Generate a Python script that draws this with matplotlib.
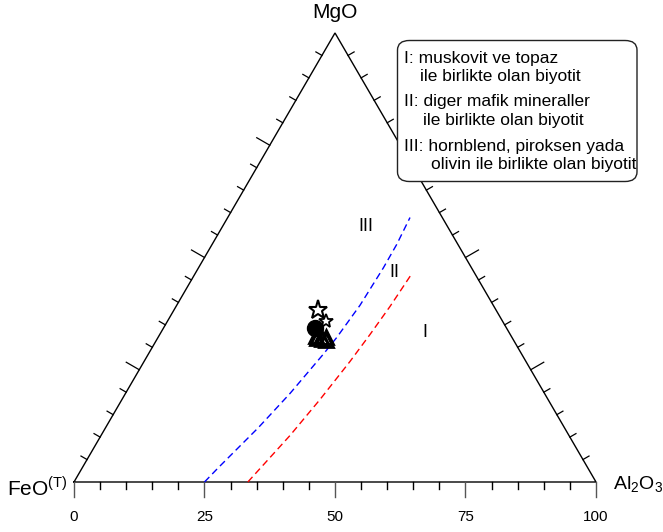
import numpy as np
import matplotlib
matplotlib.use("Agg")
import matplotlib.pyplot as plt
from matplotlib.patches import FancyBboxPatch

plt.rcParams["font.family"] = "Liberation Sans"
plt.rcParams["mathtext.fontset"] = "custom"
plt.rcParams["mathtext.rm"] = "Liberation Sans"

# boundary curves between the biotite fields, (Al2O3 %, MgO %)
III_II_AL = [25.0, 26.05, 29.26, 31.52, 33.53, 34.24, 35.11, 35.42, 35.37, 34.92]
III_II_MG = [0.0, 3.18, 12.09, 19.71, 28.46, 32.18, 39.35, 47.66, 52.89, 58.9]
II_I_AL = [33.3, 36.2, 37.94, 39.45, 40.28, 40.99, 41.5]
II_I_MG = [0.0, 10.36, 18.37, 26.84, 32.85, 39.09, 46.1]

# biotite analyses
STAR_AL = [27.6, 30.3]
STAR_MG = [38.4, 35.9]
CIRCLE_AL = [29.1]
CIRCLE_MG = [34.2]
TRI_AL = [30.0, 30.6, 31.2, 31.6, 32.1, 32.5]
TRI_MG = [32.6, 32.0, 32.4, 31.8, 32.2, 31.6]

AXIS_TICKS = [0, 25, 50, 75, 100]
FIELD_LABELS = ["III", "II", "I"]
FIELD_AL = [27.4, 38.0, 50.5]
FIELD_MG = [57.0, 46.6, 33.4]

LEGEND_LINES = [
    "I: muskovit ve topaz",
    "ile birlikte olan biyotit",
    "II: diger mafik mineraller",
    "ile birlikte olan biyotit",
    "III: hornblend, piroksen yada",
    "olivin ile birlikte olan biyotit",
]

H = np.sqrt(3) / 2


def tern(al, mg):
    al = np.asarray(al, dtype=float)
    mg = np.asarray(mg, dtype=float)
    return al + mg / 2, mg * H


W, HT = 663, 532
fig = plt.figure(figsize=(W / 100, HT / 100), dpi=100)
ax = fig.add_axes([0, 0, 1, 1])
sx, sy = 5.22, 5.185
ax.set_xlim(-74 / sx, (W - 74) / sx)
ax.set_ylim(-(HT - 482) / sy, 482 / sy)
ax.axis("off")

# triangle frame
ax.plot([0, 100, 50, 0], [0, 0, 100 * H, 0], color="black", lw=1.0,
        solid_joinstyle="miter", zorder=2)

# ticks every 5 %, long ones every 25 %
short_px, long_px = 7.0, 15.0
for t in range(0, 101, 5):
    ln = (long_px if t % 25 == 0 else short_px)
    ax.plot([t, t], [0, -ln / sy], color="#555555" if t % 25 == 0 else "black",
            lw=1.0, zorder=2)
for t in range(5, 100, 5):
    ln = long_px if t % 25 == 0 else short_px
    # left edge, FeO -> MgO
    x0, y0 = tern(0, t)
    ax.plot([x0, x0 - H * ln / sx], [y0, y0 + 0.5 * ln / sy], color="black",
            lw=0.9, zorder=2)
    # right edge, Al2O3 -> MgO
    x1, y1 = tern(100 - t, t)
    ax.plot([x1, x1 + H * ln / sx], [y1, y1 + 0.5 * ln / sy], color="black",
            lw=0.9, zorder=2)

for t in AXIS_TICKS:
    ax.text(t, -35 / sy, str(t), ha="center", va="center", fontsize=11)

# vertex labels
ax.text(50, 100 * H + 20 / sy, "MgO", ha="center", va="center", fontsize=15)
ax.text(-1.2, -1.0, r"FeO$^{\mathregular{(T)}}$", ha="right", va="center",
        fontsize=15)
ax.text(103.2, -0.6, r"Al$_{\mathregular{2}}$O$_{\mathregular{3}}$", ha="left",
        va="center", fontsize=14)

# field boundaries
bx, by = tern(III_II_AL, III_II_MG)
ax.plot(bx, by, color="#0000ff", lw=1.0, ls=(0, (5, 3)), zorder=3)
rx, ry = tern(II_I_AL, II_I_MG)
ax.plot(rx, ry, color="#ff0000", lw=1.0, ls=(0, (5, 3)), zorder=3)

fx, fy = tern(FIELD_AL, FIELD_MG)
for lab, x, y in zip(FIELD_LABELS, fx, fy):
    ax.text(x, y, lab, ha="center", va="center", fontsize=13)

# samples
cx, cy = tern(CIRCLE_AL, CIRCLE_MG)
ax.plot(cx, cy, "o", ms=11.5, mfc="black", mec="black", zorder=4)
tx, ty = tern(TRI_AL, TRI_MG)
ax.plot(tx, ty, "^", ms=10, mfc="none", mec="black", mew=2.0, ls="none", zorder=5)
stx, sty = tern(STAR_AL, STAR_MG)
ax.plot(stx[:1], sty[:1], "*", ms=14, mfc="white", mec="black", mew=1.5, zorder=6)
ax.plot(stx[1:], sty[1:], "*", ms=10, mfc="white", mec="black", mew=1.3, zorder=6)


# legend box, placed in pixel positions
def fxy(px, py):
    return px / W, 1 - py / HT


box = FancyBboxPatch(fxy(397.5, 181.5), (637 - 397.5) / W, (181.5 - 40.5) / HT,
                     boxstyle="round,pad=0,rounding_size=0.018",
                     transform=fig.transFigure, facecolor="white",
                     edgecolor="#222222", lw=1.0, zorder=10)
fig.patches.append(box)
line_x = [404, 420, 404, 423, 404, 431]
line_y = [58.5, 76.5, 101.5, 120, 146.5, 165]
for txt, lx, ly in zip(LEGEND_LINES, line_x, line_y):
    fig.text(*fxy(lx, ly), txt, ha="left", va="center", fontsize=12.5, zorder=11)

fig.savefig("out.png", dpi=100, facecolor="white")
